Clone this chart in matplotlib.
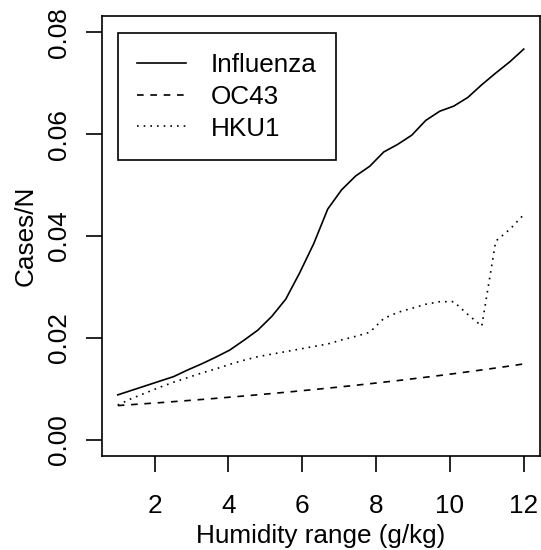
import matplotlib
matplotlib.use('Agg')
import matplotlib.pyplot as plt

plt.rcParams['font.family'] = ['Liberation Sans', 'DejaVu Sans']

humidity = [1.000, 1.379, 1.759, 2.138, 2.517, 2.897, 3.276, 3.655, 4.034, 4.414,
            4.793, 5.172, 5.552, 5.931, 6.310, 6.690, 7.069, 7.448, 7.828, 8.207,
            8.586, 8.966, 9.345, 9.724, 10.103, 10.483, 10.862, 11.241, 11.621, 12.000]

influenza = [0.0088, 0.0097, 0.0106, 0.0115, 0.0124, 0.0137, 0.0149, 0.0162, 0.0176, 0.0195,
             0.0215, 0.0242, 0.0276, 0.0328, 0.0385, 0.0453, 0.0491, 0.0518, 0.0537, 0.0565,
             0.0580, 0.0598, 0.0627, 0.0645, 0.0655, 0.0672, 0.0697, 0.0720, 0.0742, 0.0767]

oc43 = [0.00670, 0.00689, 0.00708, 0.00727, 0.00748, 0.00769, 0.00790, 0.00812, 0.00835, 0.00858,
        0.00882, 0.00907, 0.00932, 0.00958, 0.00985, 0.01012, 0.01040, 0.01069, 0.01099, 0.01130,
        0.01161, 0.01194, 0.01227, 0.01261, 0.01296, 0.01333, 0.01370, 0.01408, 0.01447, 0.01488]

hku1 = [0.0068, 0.0081, 0.0092, 0.0103, 0.0113, 0.0122, 0.0131, 0.0139, 0.0148, 0.0156,
        0.0163, 0.0168, 0.0173, 0.0178, 0.0183, 0.0188, 0.0196, 0.0203, 0.0211, 0.0238,
        0.0250, 0.0258, 0.0266, 0.0271, 0.0271, 0.0246, 0.0223, 0.0390, 0.0413, 0.0442]

labels = ['Influenza', 'OC43', 'HKU1']
xticks = [2, 4, 6, 8, 10, 12]
yticks = [0.00, 0.02, 0.04, 0.06, 0.08]

W, H = 541, 550
fs = 18.8
lw = 1.2

fig = plt.figure(figsize=(W / 100, H / 100), dpi=100)
ax = fig.add_axes([101.5 / W, 1 - 456 / H, (540 - 101.5) / W, (456 - 16) / H])

ax.plot(humidity, influenza, color='black', lw=lw, linestyle='-', label=labels[0])
ax.plot(humidity, oc43, color='black', lw=lw, linestyle=(0, (4, 4)), label=labels[1])
ax.plot(humidity, hku1, color='black', lw=lw, linestyle=(0, (1, 3)), label=labels[2])

ax.set_xlim(1 - 0.44, 12 + 0.44)
ax.set_ylim(-0.0032, 0.0832)
ax.set_xticks(xticks)
ax.set_yticks(yticks)
ax.set_yticklabels(['%.2f' % v for v in yticks])

for s in ax.spines.values():
    s.set_linewidth(lw)
ax.tick_params(length=11.5, width=lw, labelsize=fs, color='black')
ax.tick_params(axis='x', pad=16)
ax.tick_params(axis='y', pad=14)
for t in ax.get_yticklabels():
    t.set_rotation(90)
    t.set_rotation_mode('anchor')
    t.set_ha('center')
    t.set_va('baseline')

ax.set_xlabel('Humidity range (g/kg)', fontsize=fs, va='baseline')
ax.xaxis.set_label_coords(0.5, (456 - 543) / 440)
ax.set_ylabel('Cases/N', fontsize=fs, va='baseline')
ax.yaxis.set_label_coords((33 - 101.5) / 438.5, 0.5)

leg = ax.legend(loc='upper left', bbox_to_anchor=(1.0, 0.0798), bbox_transform=ax.transData,
                borderaxespad=0, fontsize=fs, handlelength=1.85, handletextpad=0.95,
                borderpad=0.75, labelspacing=0.3, fancybox=False, framealpha=1,
                edgecolor='black')
leg.get_frame().set_linewidth(lw)

fig.savefig('out.png', dpi=100)
